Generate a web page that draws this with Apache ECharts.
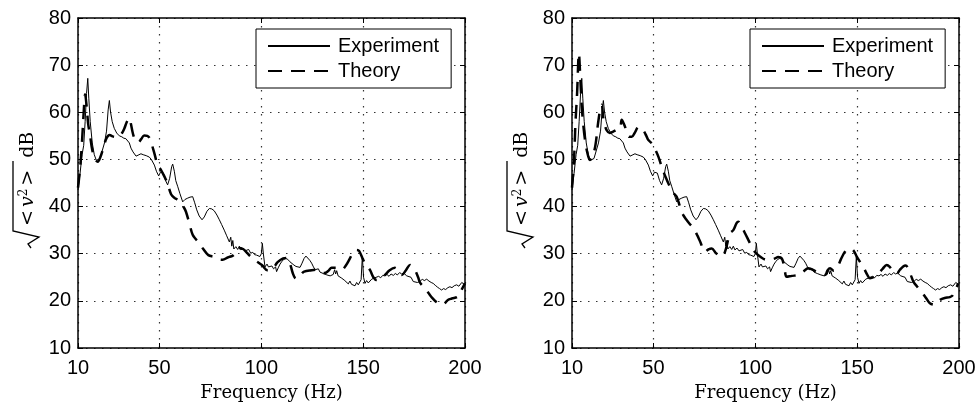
<!DOCTYPE html>
<html>
<head>
<meta charset="utf-8">
<script src="https://cdn.jsdelivr.net/npm/echarts@6/dist/echarts.min.js"></script>
<style>html,body{margin:0;padding:0;background:#fff}#c{width:980px;height:412px}</style>
</head>
<body>
<div id="c"></div>
<script>
// ---- data ----
const xTicks = [10, 50, 100, 150, 200];
const seriesNames = ['Experiment', 'Theory'];
const xTitle = 'Frequency (Hz)';

const experiment = [[10,43.5],[11,47],[12,51],[12.8,53],[13.5,58],[14.2,64],[14.8,67.2],[15.3,63],[16,58],[17,53.5],[18,51],[19,49.8],[19.8,49.5],[20.8,50.2],[22,52],[23,53.5],[24,56],[24.8,60.5],[25.4,62.5],[26,60],[26.8,58],[27.8,56.6],[29,55.6],[30.3,55],[31.5,54.8],[32.5,54.5],[33.5,54.4],[34.4,54.3],[35.2,53.5],[36,52.4],[37,51.6],[38.5,50.7],[39.5,50.9],[40.9,51.2],[42,51],[43.5,50.8],[45,50.5],[46,50],[47.5,48.8],[48.5,47.5],[49.6,46.5],[50.5,47.3],[51.9,47.1],[53,45.5],[54,44.6],[55,46],[56,48.5],[56.5,49],[57.3,47.5],[58,45.5],[59,44.2],[60,42.8],[61.4,41],[62.5,41.5],[63.9,41.8],[65,42],[66.3,42.1],[67.3,40.8],[68.3,39.3],[69.5,38],[70.9,37.2],[72,37.8],[73.3,39],[74.5,39.6],[75.7,39.5],[76.9,39.1],[78.2,38.2],[79.4,37.2],[80.5,36.2],[81.8,35],[83,33.8],[84.3,32.5],[85,33.5],[85.5,31.6],[86,32.8],[86.5,31],[87.5,31.5],[88.4,30.9],[89.2,31.6],[90,30.8],[91,31.2],[92,30.6],[92.8,30.4],[93.8,30.9],[94.8,30.1],[95.8,30.3],[96.7,29.8],[97.7,29.7],[98.5,29.9],[99.3,29.4],[100,30],[100.5,32.2],[101,30],[101.8,27.2],[102.8,27.8],[103.5,27.2],[104.3,26.9],[105.2,27.4],[106,26.8],[107,27.2],[107.5,26.2],[108.3,27],[109.2,27.8],[110,28.3],[111,28.8],[112,29],[113,28.8],[114,28.3],[114.9,28],[116,27.6],[117,27.3],[118,27.2],[119,27.1],[120,28],[121,29],[121.9,29.5],[122.8,29.2],[123.8,28.6],[124.7,28],[125.6,27.2],[126.4,26.6],[127.2,26.4],[128,26.8],[128.8,26.1],[129.6,26.5],[130.4,25.8],[131.3,26.2],[132.2,25.5],[133,25.8],[133.8,25.3],[134.5,25.1],[135.3,25.6],[136,26.6],[136.5,25.7],[137,26.4],[137.7,25.3],[138.6,25.6],[139.5,24.8],[140.3,25.2],[141,24.3],[141.8,24.7],[142.7,23.6],[143.5,24.2],[144.3,23.5],[145.1,23.9],[146,23.2],[146.8,23.9],[147.6,23.4],[148.4,23.6],[149,24.5],[149.6,29.4],[150.2,25],[150.9,23.7],[151.7,24.3],[152.5,23.8],[153.4,24.1],[154.2,24.6],[155,24.3],[155.8,24.9],[156.6,24.8],[157.6,25.2],[158.6,24.9],[159.6,25.4],[160.7,25.3],[161.7,25.6],[162.7,25.2],[163.7,25.7],[164.8,25.4],[165.8,25.8],[166.8,25.5],[167.9,26],[168.9,25.7],[169.9,25.9],[170.7,25.5],[171.4,25.3],[172.3,25.7],[173.5,25],[174.6,24.1],[175.5,24.4],[176.6,23.9],[177.9,24.1],[179,24.6],[180,24.3],[181.2,24.6],[182.3,24.2],[183.4,23.9],[184.4,23.7],[185.4,23.3],[186.5,22.9],[187.5,22.6],[188.5,22.3],[189.5,22.6],[190.5,22.4],[191.6,22.8],[192.6,23],[193.6,22.8],[194.7,23.2],[195.9,23.4],[197,23.1],[198.4,23.9],[199.2,23.5],[200,23.4]];

const theoryLeft = [[10,44],[11,48],[12,54],[12.8,60],[13.5,63.8],[14.3,61],[15,57.5],[15.9,55.2],[17,52],[18.5,50],[19.7,49.5],[21,50.5],[22.5,52.5],[24,54.5],[25.5,55.2],[27,54.9],[28.7,54.8],[30,54.8],[31.5,55.5],[32.7,56.5],[34,58],[35.2,58.8],[36,57.5],[36.9,55.6],[38,54.2],[39.5,53.6],[41,54.3],[42.5,55.1],[44,55],[45,54.6],[46,53.5],[47.5,51.3],[49.1,48.8],[50.7,47.8],[52.5,46.3],[54,44.9],[55.7,42.6],[57.5,41.8],[59,41.4],[60.5,40.6],[62,39.8],[63,38.9],[64.7,36.4],[66.3,34],[68,33],[69.6,32.2],[71.5,31],[74,29.7],[77,29.3],[79,28.8],[81,28.7],[83.5,29.2],[86,29.6],[87.5,30.3],[89,31.2],[91,31],[92.5,30.4],[94.5,29.5],[97,28.6],[100.3,27.6],[103,26.5],[105.5,26.8],[108,28.2],[110.7,29],[112.5,29.1],[113.5,28.5],[114.5,27.3],[115.5,25.8],[116.5,24.9],[117.5,24.7],[118.5,25],[119.5,25.6],[121,26.2],[124.7,26.5],[127,26.6],[129.8,26],[131,25.9],[133,26.4],[134.5,27],[137,27],[139.5,26.6],[141.5,27.5],[143.5,29],[145,30.2],[146.8,30.8],[148,30.6],[150,28.7],[151.5,27.6],[153.4,26.5],[155,25],[156.6,24.4],[158.5,24.8],[160.7,25.5],[163,26.5],[165.6,27],[167,26.5],[169,25.5],[171,26.5],[173,27.6],[174.2,27.2],[175.5,26.5],[177,25],[178,23.8],[180,22.8],[182,21.7],[184,20.6],[186.7,19.5],[189,19.2],[191.6,20.2],[193.5,20.5],[196.5,20.9],[198.5,22.5],[200,23.7]];

const theoryRight = [[10,44],[11,50],[11.7,57.7],[12.5,64],[13.4,72.5],[14,68],[14.8,61.2],[15.5,57.5],[16.4,54.1],[17.5,51.5],[18.8,49.9],[20,50.5],[21.5,53],[22.8,57.7],[24,61],[24.6,61.6],[25.3,59],[26,57.5],[27,56.2],[28.5,55.6],[30.2,55.9],[32,56.3],[33.6,56.6],[34.4,58.4],[35.5,57.5],[36.9,55.9],[38,54.8],[39.3,54.8],[41,55.8],[42.6,56.9],[44,56.6],[45,56.2],[46.5,55],[47.5,54.1],[49.9,53.1],[51,52],[52.4,50.6],[54,48.5],[56,46.2],[58.1,44.2],[60,42.8],[61.4,42.1],[63,40],[64.5,38.3],[66,37.3],[67.8,36.3],[69.5,35.5],[71.4,34],[73,32.5],[75.3,30.4],[77,30.9],[78.6,31.1],[80.5,30.2],[82,29.6],[83.5,29.4],[85.1,30.4],[87.6,34.3],[89.2,35],[90.8,36.5],[91.6,36.8],[93,36],[95,34.3],[97.4,32.2],[99.5,30.5],[102.3,29.4],[105.6,28.7],[108,28.8],[109.7,29],[111.2,29.3],[113,29],[114.3,27],[115.4,25.1],[118,25.3],[121.1,25.5],[123.5,26.2],[126,26.9],[130,26.2],[134.2,25.5],[135.5,26.5],[136.7,26.9],[138.5,26.4],[140.8,27.6],[142,28.8],[144,30.4],[146,31.1],[148,30.8],[149.8,29.4],[151.5,28.2],[153,27.2],[155,25.5],[156.3,24.8],[158,25],[160.4,25.8],[162.5,26.8],[164.5,27.6],[166,27.2],[167.7,26.2],[169.5,25.8],[171,26.6],[172.6,27.3],[173.8,27.5],[175.1,26.8],[176.5,25.3],[177.6,24.1],[179.5,23],[181.7,21.9],[184,20.5],[185.7,19.5],[188,19.2],[190.7,20.2],[193,20.6],[195.5,20.8],[197,21.2],[199.6,23.7]];

const theories = [theoryLeft, theoryRight];

// ---- layout ----
const panels = [{left: 78, legendLeft: 256}, {left: 572, legendLeft: 750}];
const gridTop = 18, gridW = 387, gridH = 330;
const sans = "'Liberation Sans', Arial, Helvetica, sans-serif";
const serif = "'DejaVu Serif', 'Liberation Serif', serif";
const gridLine = {show: true, lineStyle: {color: '#333', width: 1.2, type: [1.5, 6.5]}};

const grids = [], xAxes = [], yAxes = [], series = [], legends = [], graphics = [];
panels.forEach((p, i) => {
  grids.push({left: p.left, top: gridTop, width: gridW, height: gridH});
  const axLine = {show: true, onZero: false, lineStyle: {color: '#000', width: 1.5}};
  const tick = {show: true, inside: true, length: 5, lineStyle: {color: '#000', width: 1}};
  xAxes.push({
    type: 'value', gridIndex: i, min: 10, max: 200, position: 'bottom',
    axisLine: axLine,
    axisTick: Object.assign({customValues: xTicks}, tick),
    axisLabel: {customValues: xTicks, color: '#000', fontSize: 20, fontFamily: sans, margin: 10},
    splitLine: gridLine,
    name: xTitle, nameLocation: 'middle', nameGap: 36,
    nameTextStyle: {fontFamily: serif, fontSize: 18, color: '#000'}
  });
  xAxes.push({
    type: 'value', gridIndex: i, min: 10, max: 200, position: 'top',
    axisLine: axLine,
    axisTick: Object.assign({customValues: xTicks}, tick),
    axisLabel: {show: false}, splitLine: {show: false}
  });
  yAxes.push({
    type: 'value', gridIndex: i, min: 10, max: 80, interval: 10, position: 'left',
    axisLine: axLine, axisTick: tick,
    axisLabel: {color: '#000', fontSize: 20, fontFamily: sans, margin: 7},
    splitLine: gridLine
  });
  yAxes.push({
    type: 'value', gridIndex: i, min: 10, max: 80, interval: 10, position: 'right',
    axisLine: axLine, axisTick: tick,
    axisLabel: {show: false}, splitLine: {show: false}
  });
  series.push({
    name: seriesNames[0], type: 'line', xAxisIndex: 2 * i, yAxisIndex: 2 * i,
    data: experiment, symbol: 'none', showSymbol: false, animation: false,
    lineStyle: {color: '#000', width: 1}, itemStyle: {color: '#000', opacity: 0}, z: 3
  });
  series.push({
    name: seriesNames[1], type: 'line', xAxisIndex: 2 * i, yAxisIndex: 2 * i,
    data: theories[i], symbol: 'none', showSymbol: false, smooth: 0.35, animation: false,
    lineStyle: {color: '#000', width: 2.5, type: [14, 9]}, itemStyle: {color: '#000', opacity: 0}, z: 2
  });
  legends.push({
    data: seriesNames, orient: 'vertical', left: p.legendLeft, top: 29,
    itemWidth: 62, itemHeight: 14, itemGap: 3,
    itemStyle: {opacity: 0, borderWidth: 0},
    backgroundColor: '#fff', borderColor: '#000', borderWidth: 1, borderRadius: 0,
    padding: [6, 12, 6, 11],
    textStyle: {color: '#000', fontSize: 20, fontFamily: sans, lineHeight: 22, padding: [0, 0, 0, 3]},
    selectedMode: false
  });
  // y-axis title: sqrt(<v^2>) dB, rotated
  graphics.push({
    type: 'group', x: p.left - 50, y: 186, rotation: Math.PI / 2,
    children: [
      {
        type: 'text', x: -43, y: 0,
        style: {
          text: '{n|<}{i|v}{s|2}{n|>}{d|dB}',
          align: 'left', verticalAlign: 'middle', fill: '#000',
          rich: {
            n: {fontFamily: serif, fontSize: 19, fill: '#000', padding: [0, 3], lineHeight: 20},
            i: {fontFamily: serif, fontSize: 19, fontStyle: 'italic', fill: '#000', lineHeight: 20},
            s: {fontFamily: serif, fontSize: 12, fill: '#000', verticalAlign: 'top', lineHeight: 12},
            d: {fontFamily: serif, fontSize: 19, fill: '#000', padding: [0, 0, 0, 9], lineHeight: 20}
          }
        }
      },
      {
        type: 'polyline',
        shape: {points: [[-62, 3], [-58, 0], [-51, 11], [-45, -15], [25, -15]]},
        style: {stroke: '#000', lineWidth: 1.3, fill: null}
      }
    ]
  });
});

const chart = echarts.init(document.getElementById('c'), null, {renderer: 'canvas'});
chart.setOption({
  animation: false,
  backgroundColor: '#fff',
  grid: grids, xAxis: xAxes, yAxis: yAxes, series: series, legend: legends, graphic: graphics
});
</script>
</body>
</html>
